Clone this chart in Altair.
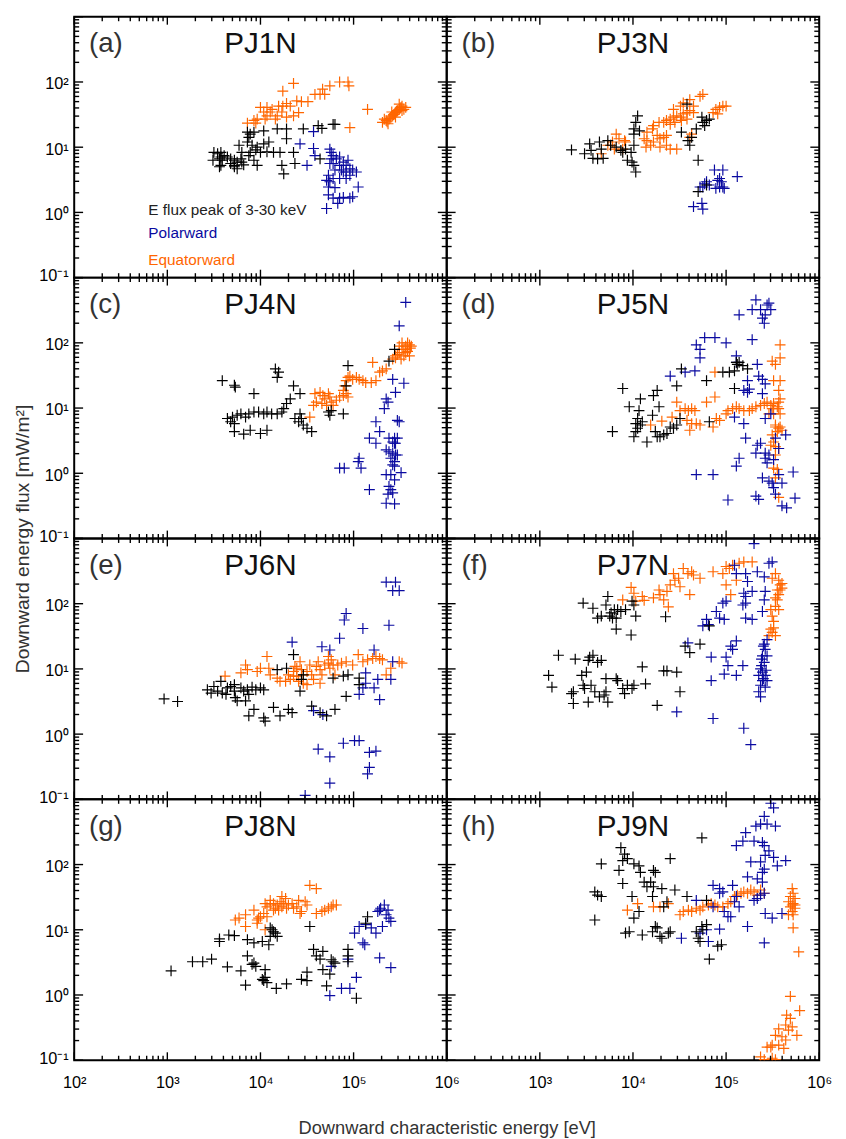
import altair as alt
import pandas as pd

# Values, stored as (log10 energy [eV], log10 flux [mW/m^2])
A_BLACK = [(3.50,0.92),(3.54,0.90),(3.575,0.92),(3.61,0.87),(3.56,0.82),(3.59,0.80),(3.645,0.85),(3.68,0.82),(3.72,0.80),(3.75,0.77),(3.79,0.82),(3.575,0.72),(3.72,0.70),(3.75,0.67),(3.82,0.73),(3.80,0.77),(3.875,0.87),(3.89,0.92),(3.95,0.96),(4.0,0.92),(4.07,0.93),(4.14,0.92),(4.21,0.92),(4.035,1.05),(4.09,1.08),(3.965,1.0),(3.77,1.03),(3.86,1.08),(3.89,1.20),(3.86,1.23),(3.93,1.23),(3.875,1.15),(4.035,1.25),(4.18,1.28),(4.28,1.28),(4.28,1.13),(4.355,0.92),(4.46,1.28),(4.62,1.33),(4.66,1.29),(4.78,1.35),(4.80,1.35),(4.64,0.82),(4.23,0.72),(4.25,0.59),(4.37,0.75),(3.965,0.72),(3.93,0.80),(3.49,0.80),(3.56,0.70),(3.68,0.75),(3.72,0.72),(3.91,1.03),(3.80,0.92),(3.575,0.85)]
A_BLUE = [(4.425,1.05),(4.57,0.98),(4.585,0.87),(4.50,0.72),(4.57,1.24),(4.745,0.97),(4.76,0.92),(4.78,0.87),(4.815,0.82),(4.85,0.85),(4.745,0.75),(4.78,0.75),(4.85,0.72),(4.89,0.77),(4.92,0.72),(4.96,0.67),(4.99,0.65),(5.03,0.62),(4.92,0.62),(4.87,0.65),(4.80,0.65),(4.73,0.57),(4.71,0.49),(4.745,0.47),(4.78,0.52),(4.85,0.52),(4.92,0.52),(4.96,0.57),(4.73,0.39),(4.80,0.38),(5.05,0.39),(4.73,0.27),(4.78,0.22),(4.85,0.22),(4.89,0.23),(4.96,0.22),(4.99,0.24),(4.83,0.14),(4.71,0.06),(4.89,0.62),(4.76,0.82),(4.94,0.80)]
A_ORANGE = [(4.24,1.86),(4.355,1.98),(4.667,1.89),(4.745,1.94),(4.85,2.0),(4.94,2.0),(4.95,1.94),(4.64,1.81),(4.69,1.81),(4.585,1.81),(4.39,1.71),(4.44,1.70),(4.51,1.70),(4.28,1.67),(4.24,1.63),(4.195,1.63),(4.07,1.61),(4.0,1.61),(4.125,1.58),(4.035,1.54),(4.105,1.54),(4.23,1.54),(4.32,1.63),(4.355,1.48),(4.41,1.53),(4.18,1.48),(4.07,1.48),(4.05,1.43),(4.16,1.43),(4.28,1.46),(3.965,1.43),(3.86,1.37),(3.95,1.37),(3.93,1.41),(4.96,1.30),(5.15,1.58),(5.31,1.38),(5.35,1.41),(5.38,1.43),(5.40,1.46),(5.42,1.48),(5.44,1.51),(5.45,1.53),(5.47,1.56),(5.49,1.58),(5.51,1.61),(5.52,1.63),(5.54,1.58),(5.49,1.66),(5.45,1.46),(5.37,1.36),(5.33,1.43),(5.41,1.54),(5.52,1.56),(5.56,1.61),(5.36,1.39),(5.43,1.50),(5.50,1.60),(5.46,1.55),(5.39,1.44)]

B_BLACK = [(3.34,0.96),(3.535,1.05),(3.55,0.95),(3.48,0.90),(3.57,0.83),(3.62,0.82),(3.68,0.83),(3.66,0.97),(3.64,1.08),(3.73,1.10),(3.76,1.03),(3.82,1.0),(3.87,0.95),(3.92,0.97),(3.89,0.92),(3.94,0.80),(3.99,0.77),(4.01,0.72),(4.03,0.62),(3.98,0.92),(4.01,1.03),(4.01,1.20),(4.03,1.38),(4.05,1.48),(4.01,1.28),(4.07,1.25),(4.52,1.23),(4.59,1.10),(4.61,1.03),(4.63,1.15),(4.68,1.28),(4.75,1.38),(4.77,1.33),(4.79,1.41),(4.82,1.43),(4.74,1.46),(4.70,0.80),(4.70,0.32),(4.79,0.42),(4.58,1.66)]
B_BLUE = [(4.79,0.47),(4.75,0.39),(4.82,0.42),(4.875,0.65),(4.965,0.65),(4.93,0.52),(4.95,0.47),(4.91,0.49),(4.89,0.37),(4.98,0.37),(4.965,0.39),(4.93,0.39),(5.12,0.55),(4.65,0.09),(4.74,0.14),(4.75,0.05),(4.72,0.39),(4.77,0.44)]
B_ORANGE = [(3.73,1.03),(3.78,1.08),(3.82,1.20),(3.85,1.13),(3.91,1.10),(3.92,1.08),(3.89,0.97),(3.80,0.97),(4.12,1.13),(4.14,1.0),(4.15,1.23),(4.21,1.28),(4.22,1.33),(4.26,1.18),(4.29,1.13),(4.33,1.15),(4.36,1.18),(4.28,1.38),(4.33,1.38),(4.36,1.41),(4.40,1.43),(4.435,1.46),(4.47,1.48),(4.51,1.46),(4.54,1.51),(4.58,1.53),(4.61,1.56),(4.65,1.53),(4.40,1.35),(4.45,1.38),(4.52,1.41),(4.58,1.43),(4.36,1.03),(4.40,0.97),(4.47,0.97),(4.29,1.0),(4.19,1.03),(4.54,1.68),(4.61,1.73),(4.72,1.78),(4.75,1.81),(4.65,1.63),(4.86,1.53),(4.89,1.58),(4.93,1.61),(4.965,1.63),(5.0,1.63),(4.91,1.51),(4.435,1.58),(4.51,1.63),(4.61,1.15),(4.63,1.20),(3.66,0.90),(4.15,1.10),(4.22,1.08)]

C_BLACK = [(3.59,1.42),(3.72,1.35),(3.73,1.32),(3.645,0.84),(3.68,0.79),(3.72,0.76),(3.70,0.86),(3.75,0.89),(3.79,0.91),(3.84,0.86),(3.875,0.91),(3.93,0.94),(3.98,0.94),(4.035,0.91),(4.07,0.94),(4.12,0.91),(4.18,0.91),(4.23,0.94),(4.25,0.99),(4.28,1.07),(4.32,1.14),(4.355,1.34),(4.425,1.22),(4.37,0.84),(4.41,0.79),(4.46,0.74),(4.50,0.69),(4.55,0.64),(3.72,0.64),(3.82,0.60),(3.89,0.66),(4.0,0.61),(4.07,0.66),(3.93,1.22),(4.16,1.60),(4.195,1.55),(4.18,1.47),(4.425,0.91),(4.73,0.94),(4.745,0.89),(4.76,0.96),(4.89,0.91),(4.94,1.65),(4.92,1.34),(5.38,1.72),(5.44,1.90),(4.44,0.84)]
C_BLUE = [(5.56,2.62),(5.49,2.26),(5.54,1.38),(5.42,1.44),(5.35,1.14),(5.37,1.09),(5.45,1.24),(5.47,0.81),(5.49,0.79),(5.33,0.99),(5.24,0.79),(5.28,0.64),(5.17,0.54),(5.24,0.46),(5.44,0.54),(5.42,0.48),(5.45,0.46),(5.35,0.36),(5.38,0.33),(5.42,0.31),(5.45,0.28),(5.40,0.23),(5.44,0.18),(5.47,0.28),(5.42,0.13),(5.44,0.11),(5.51,0.01),(5.44,-0.10),(5.35,-0.02),(5.38,-0.20),(5.40,-0.25),(5.42,-0.30),(5.37,-0.32),(5.35,-0.46),(5.44,-0.47),(5.17,-0.25),(5.06,0.23),(5.05,0.18),(5.08,0.08),(4.85,0.08),(4.90,0.08),(5.40,-0.02),(5.44,0.46),(5.47,0.54),(5.38,0.54)]
C_ORANGE = [(4.53,0.86),(4.57,1.04),(4.585,1.22),(4.64,1.24),(4.67,1.19),(4.73,1.22),(4.745,1.17),(4.60,1.09),(4.66,1.07),(4.71,1.04),(4.69,1.14),(4.76,1.09),(4.78,1.04),(4.815,1.12),(4.85,1.17),(4.89,1.27),(4.905,1.34),(4.92,1.42),(4.94,1.47),(4.96,1.49),(4.99,1.44),(5.03,1.47),(5.06,1.44),(5.10,1.42),(5.13,1.39),(5.19,1.39),(5.205,1.70),(5.24,1.42),(5.28,1.55),(5.31,1.57),(5.35,1.60),(5.42,1.75),(5.45,1.77),(5.49,1.85),(5.52,1.90),(5.56,1.95),(5.60,1.97),(5.54,1.80),(5.58,1.87),(5.51,1.75),(5.47,1.82),(5.61,1.92),(5.56,1.85),(5.52,2.0),(5.60,1.80),(4.92,1.22),(4.94,1.17),(4.89,1.19),(5.49,1.95),(5.54,1.90),(5.62,1.95),(5.58,2.0),(5.45,1.80)]

D_BLACK = [(3.78,0.64),(3.89,1.30),(3.96,1.02),(4.03,0.76),(4.05,0.69),(4.065,0.96),(4.08,1.14),(4.10,0.79),(4.15,0.48),(4.21,0.89),(4.22,1.19),(4.26,1.27),(4.28,1.02),(4.24,0.64),(4.26,0.56),(4.29,0.56),(4.33,0.59),(4.365,0.61),(4.40,0.71),(4.435,0.69),(4.47,0.74),(4.505,0.84),(4.52,1.60),(4.47,1.34),(4.79,1.42),(4.82,0.79),(4.965,1.55),(5.035,1.55),(5.09,1.57),(5.11,1.70),(5.12,1.67),(5.14,1.70),(5.18,1.65),(5.23,1.60),(5.09,1.30),(4.03,0.64),(4.01,0.56),(4.05,0.84),(4.08,0.74)]
D_BLUE = [(5.32,2.66),(5.44,2.58),(5.48,2.51),(5.46,2.61),(5.37,2.51),(5.42,2.43),(5.39,2.38),(5.41,2.30),(5.14,2.43),(5.28,2.51),(5.28,2.05),(4.77,2.08),(4.88,2.08),(5.0,2.0),(4.68,1.97),(4.72,1.90),(4.72,1.77),(5.11,1.80),(5.11,1.70),(4.40,1.49),(4.56,1.55),(4.665,1.57),(5.335,1.67),(5.35,1.49),(5.39,1.44),(5.23,1.42),(5.25,1.29),(5.23,1.24),(5.19,1.27),(5.39,1.22),(5.42,1.37),(5.09,0.86),(5.19,0.76),(5.21,0.54),(5.335,0.43),(5.37,0.46),(5.32,0.31),(5.42,0.31),(5.46,0.28),(5.42,0.23),(5.44,0.16),(5.51,0.21),(5.14,0.23),(5.11,0.11),(5.39,-0.07),(5.46,-0.12),(5.495,-0.15),(5.51,-0.22),(5.565,-0.02),(5.60,-0.15),(5.72,0.02),(5.02,-0.41),(5.32,-0.35),(5.35,-0.40),(5.53,-0.32),(5.60,-0.50),(5.65,-0.53),(5.74,-0.38),(4.68,-0.02),(4.86,-0.02),(5.565,0.38),(5.53,0.54),(5.64,0.59),(5.48,0.91),(5.42,0.84)]
D_ORANGE = [(4.19,0.74),(4.31,0.80),(4.42,0.86),(4.47,1.09),(4.505,0.96),(4.56,0.99),(4.595,0.96),(4.63,0.99),(4.665,0.96),(4.58,0.81),(4.63,0.76),(4.68,0.76),(4.72,0.74),(4.61,0.66),(4.79,1.09),(4.88,1.17),(4.895,0.84),(4.93,0.81),(4.86,0.71),(4.88,1.55),(5.0,0.91),(5.02,0.96),(5.07,0.99),(5.11,1.02),(5.14,0.99),(5.19,0.96),(5.25,0.96),(5.28,0.99),(5.32,1.02),(5.37,1.04),(5.41,1.07),(5.44,1.09),(5.48,1.04),(5.51,1.07),(5.55,1.02),(5.565,0.99),(5.58,1.14),(5.565,1.27),(5.51,1.42),(5.58,1.42),(5.53,1.67),(5.58,1.77),(5.58,1.97),(5.495,1.72),(5.565,0.69),(5.53,0.71),(5.60,0.66),(5.55,0.64),(5.495,0.59),(5.51,0.48),(5.53,0.41),(5.565,0.38),(5.48,0.43),(5.53,0.28),(5.55,0.06),(5.53,-0.07),(5.565,-0.37),(5.51,0.08),(5.46,0.91),(5.51,0.91),(5.58,0.91),(5.495,0.99),(5.565,1.09),(5.53,0.74),(5.58,0.71)]

E_BLACK = [(2.965,0.54),(3.11,0.50),(3.43,0.68),(3.47,0.63),(3.50,0.73),(3.54,0.66),(3.575,0.81),(3.59,0.63),(3.63,0.61),(3.645,0.71),(3.68,0.73),(3.72,0.66),(3.73,0.56),(3.75,0.51),(3.72,0.76),(3.79,0.71),(3.82,0.66),(3.86,0.68),(3.875,0.61),(3.91,0.72),(3.95,0.68),(4.0,0.71),(4.035,0.68),(3.84,0.51),(3.875,0.28),(3.93,0.38),(4.035,0.25),(4.05,0.20),(4.14,0.41),(4.21,0.28),(4.30,0.38),(4.34,0.33),(4.355,1.22),(4.18,0.99),(4.425,0.66),(4.44,0.84),(4.46,0.91),(4.55,0.43),(4.64,0.33),(4.71,0.28),(4.80,0.38),(4.92,0.58),(4.78,0.86),(4.89,0.89),(4.94,0.91),(5.06,0.76),(5.06,0.86),(4.28,1.01)]
E_BLUE = [(4.34,1.41),(4.48,-0.94),(4.62,-0.23),(4.66,1.34),(4.745,1.29),(4.745,-0.35),(4.745,-0.75),(4.85,1.47),(4.90,1.75),(4.92,1.85),(4.89,-0.14),(5.01,-0.10),(5.06,-0.10),(5.10,1.62),(5.13,0.94),(5.13,0.78),(5.06,0.61),(5.10,0.71),(5.17,-0.51),(5.15,-0.61),(5.17,-0.28),(5.24,-0.26),(5.22,0.71),(5.22,1.29),(5.28,0.53),(5.26,0.84),(5.35,2.33),(5.45,2.33),(5.42,2.20),(5.49,2.20),(5.38,1.67),(5.40,0.84),(5.42,1.11),(4.67,0.30),(4.57,0.36)]
E_ORANGE = [(3.62,0.89),(3.79,0.94),(3.84,1.06),(3.86,0.99),(3.965,0.96),(4.0,1.01),(4.07,1.19),(4.09,1.01),(4.105,0.91),(4.18,0.86),(4.21,0.81),(4.27,0.81),(4.32,0.84),(4.355,0.96),(4.37,1.04),(4.39,0.89),(4.41,0.81),(4.425,1.11),(4.44,0.99),(4.46,0.91),(4.50,0.96),(4.53,1.06),(4.55,0.91),(4.57,0.84),(4.60,1.04),(4.62,1.11),(4.64,0.99),(4.66,0.91),(4.69,1.06),(4.73,1.09),(4.745,1.01),(4.76,1.14),(4.78,1.06),(4.80,0.91),(4.83,1.06),(4.87,1.09),(4.92,1.11),(4.99,1.06),(5.05,1.22),(5.10,1.11),(5.15,1.14),(5.205,1.16),(5.24,1.19),(5.28,1.16),(5.31,1.14),(5.35,0.91),(5.40,1.01),(5.49,1.11),(5.52,1.09),(4.46,0.78),(4.50,0.76),(4.64,0.78),(4.73,1.19),(4.30,0.91),(4.39,1.01),(4.355,0.89)]

F_BLACK = [(3.094,0.90),(3.13,0.72),(3.20,1.21),(3.38,1.15),(3.36,0.65),(3.34,0.62),(3.36,0.47),(3.45,0.90),(3.465,0.75),(3.48,0.70),(3.50,0.95),(3.52,1.13),(3.535,1.18),(3.57,1.21),(3.62,1.10),(3.66,1.13),(3.52,0.49),(3.55,0.75),(3.59,0.65),(3.64,0.57),(3.69,0.60),(3.71,0.65),(3.73,0.49),(3.71,0.85),(3.82,0.85),(3.835,0.82),(3.89,0.70),(3.91,0.62),(3.94,0.75),(3.99,0.70),(4.01,0.75),(4.10,1.03),(4.135,0.77),(4.26,0.44),(4.33,0.97),(4.365,0.97),(4.47,0.95),(4.505,0.65),(4.56,1.35),(4.61,1.25),(4.72,1.38),(4.82,1.66),(3.465,2.01),(3.57,1.93),(3.62,1.78),(3.66,1.81),(3.73,2.11),(3.765,1.86),(3.78,1.78),(3.80,1.91),(3.82,1.61),(3.835,1.91),(3.87,1.88),(3.92,1.91),(3.98,1.52),(4.03,1.81),(4.35,1.80),(3.71,1.98),(3.75,1.81),(3.82,1.78),(4.01,1.98),(3.99,2.04)]
F_BLUE = [(5.30,2.92),(5.495,2.64),(5.46,2.62),(5.09,2.59),(5.11,2.46),(5.21,2.46),(5.23,2.34),(5.19,2.16),(5.21,2.11),(5.28,2.19),(5.335,2.49),(5.41,2.41),(5.42,2.19),(5.41,2.06),(5.39,1.88),(5.21,2.01),(5.18,1.98),(4.965,2.01),(5.0,2.04),(4.895,1.88),(4.93,1.78),(4.98,1.76),(4.79,1.76),(4.81,1.68),(4.75,1.66),(5.21,1.78),(5.28,1.76),(5.44,1.45),(5.41,1.38),(5.42,1.30),(5.39,1.20),(5.44,1.20),(5.41,1.10),(5.37,1.0),(5.39,0.95),(5.42,0.90),(5.35,0.90),(5.39,0.82),(5.44,0.82),(5.37,0.75),(5.35,0.65),(5.37,0.57),(5.42,0.72),(5.11,1.43),(5.05,1.35),(5.07,1.30),(5.0,1.18),(5.02,1.05),(4.98,0.92),(5.11,0.90),(5.18,1.05),(4.84,1.18),(4.84,0.82),(4.59,1.40),(4.47,0.34),(4.86,0.24),(5.19,0.09),(5.265,-0.16),(5.40,1.35),(5.38,1.05),(5.43,0.98),(5.40,0.85),(5.38,1.15)]
F_ORANGE = [(3.89,2.06),(3.98,2.25),(4.01,2.16),(4.03,2.04),(4.10,2.11),(4.12,2.05),(4.22,2.09),(4.28,2.21),(4.33,2.06),(4.365,2.19),(4.38,1.95),(4.40,2.29),(4.435,2.46),(4.45,2.36),(4.49,2.39),(4.505,2.26),(4.54,2.54),(4.59,2.46),(4.63,2.49),(4.65,2.44),(4.72,2.39),(4.61,2.14),(4.86,2.49),(4.965,2.46),(5.0,2.57),(5.035,2.54),(5.07,2.59),(5.14,2.62),(5.19,2.64),(5.28,2.64),(5.0,2.29),(5.05,2.14),(5.11,2.36),(5.495,2.39),(5.53,2.46),(5.565,2.36),(5.58,2.29),(5.60,2.31),(5.55,2.21),(5.565,2.14),(5.55,2.06),(5.53,1.96),(5.48,1.91),(5.495,1.81),(5.51,1.73),(5.51,1.63),(5.495,1.56),(5.46,1.51),(5.53,1.51),(5.48,1.61),(5.565,1.91),(5.53,2.09),(5.58,2.21),(5.60,2.24),(4.29,2.14)]

G_BLACK = [(3.04,0.37),(3.27,0.51),(3.38,0.51),(3.475,0.55),(3.56,0.86),(3.56,0.82),(3.66,0.92),(3.72,0.91),(3.645,0.43),(3.79,0.37),(3.84,0.15),(3.86,0.60),(3.86,0.85),(3.91,0.47),(3.93,0.49),(3.93,0.80),(3.95,0.44),(4.02,0.82),(4.02,0.24),(4.035,0.22),(4.05,0.27),(4.07,0.19),(4.05,0.39),(4.105,0.90),(4.09,0.77),(4.105,1.03),(4.125,1.0),(4.14,0.97),(4.16,0.95),(4.18,0.90),(4.17,0.10),(4.28,0.17),(4.44,0.24),(4.50,0.22),(4.50,0.35),(4.53,1.05),(4.57,0.70),(4.60,0.60),(4.64,0.55),(4.67,0.67),(4.67,0.39),(4.71,0.14),(4.745,0.32),(4.76,0.54),(4.78,0.51),(4.80,0.49),(4.94,0.70),(4.94,0.51),(5.03,-0.05),(5.13,1.10),(5.15,1.20),(4.94,0.60)]
G_BLUE = [(4.745,-0.01),(4.76,0.44),(4.87,0.10),(4.96,0.10),(4.94,0.55),(5.03,0.27),(5.01,0.95),(5.06,1.05),(5.10,0.80),(5.12,0.77),(5.13,1.08),(5.19,1.03),(5.24,0.95),(5.26,1.28),(5.28,1.30),(5.29,1.33),(5.33,1.38),(5.37,1.30),(5.35,1.23),(5.31,1.05),(5.28,0.57),(5.40,0.42),(5.38,1.18),(5.40,1.13)]
G_ORANGE = [(3.77,1.18),(3.73,1.15),(3.84,1.05),(3.84,1.23),(3.93,1.30),(3.965,1.15),(3.98,1.18),(4.0,1.20),(4.05,1.40),(4.07,1.35),(4.105,1.38),(4.14,1.30),(4.16,1.33),(4.18,1.38),(4.105,1.45),(4.035,1.25),(4.07,1.20),(4.195,1.30),(4.23,1.35),(4.25,1.40),(4.30,1.38),(4.355,1.33),(4.39,1.35),(4.41,1.45),(4.425,1.25),(4.44,1.28),(4.48,1.43),(4.50,1.38),(4.53,1.68),(4.60,1.63),(4.60,1.25),(4.66,1.28),(4.69,1.30),(4.73,1.33),(4.76,1.35),(4.78,1.38),(4.815,1.38),(4.27,1.48),(4.23,1.51),(4.14,1.40),(4.21,1.43),(4.28,1.33),(4.34,1.40),(4.05,1.0),(3.965,1.10)]

H_BLACK = [(3.59,1.15),(3.59,1.58),(3.62,1.53),(3.66,2.01),(3.66,1.51),(3.85,1.91),(3.87,2.26),(3.89,2.06),(3.91,2.16),(3.89,1.71),(3.92,0.95),(3.96,0.97),(3.99,1.51),(4.01,1.18),(4.065,1.28),(4.065,1.98),(4.10,0.92),(4.08,1.88),(4.12,1.73),(4.15,1.66),(4.19,1.73),(4.21,1.51),(4.22,1.66),(4.24,1.88),(4.22,1.91),(4.21,0.97),(4.24,1.05),(4.26,1.03),(4.29,0.90),(4.31,0.87),(4.31,1.63),(4.33,1.35),(4.365,1.43),(4.38,0.95),(4.40,0.97),(4.40,2.09),(4.45,1.61),(4.58,1.51),(4.68,0.97),(4.70,0.87),(4.72,0.82),(4.74,1.05),(4.75,1.0),(4.79,1.08),(4.79,1.45),(4.82,0.55),(4.91,0.75),(4.95,0.77),(4.74,2.41),(3.94,2.09),(4.01,2.01)]
H_BLUE = [(5.48,2.94),(5.51,2.87),(5.41,2.74),(5.44,2.62),(5.53,2.59),(5.32,2.59),(5.37,2.62),(5.21,2.49),(5.18,2.36),(5.11,2.29),(5.30,2.36),(5.39,2.34),(5.41,2.29),(5.46,2.21),(5.42,2.14),(5.51,2.11),(5.64,2.06),(5.37,2.04),(5.265,2.04),(5.55,1.98),(5.41,1.93),(5.39,1.88),(5.23,1.81),(5.335,1.78),(5.39,1.73),(4.86,1.68),(4.93,1.63),(4.93,1.56),(4.965,1.58),(5.07,1.68),(5.11,1.51),(5.09,1.43),(5.14,1.35),(4.98,1.28),(5.02,1.20),(5.05,1.20),(5.37,1.53),(5.335,1.48),(5.30,1.45),(5.41,1.56),(5.42,1.25),(5.495,1.18),(5.60,1.25),(5.23,1.05),(5.41,0.80),(4.68,1.45),(4.52,0.87),(4.81,0.82),(4.93,1.01),(4.86,1.35),(4.72,0.95),(4.79,1.0)]
H_ORANGE = [(3.94,1.30),(4.05,1.40),(4.22,1.35),(4.29,1.35),(4.38,1.40),(4.505,1.23),(4.54,1.28),(4.595,1.30),(4.63,1.28),(4.68,1.33),(4.72,1.30),(4.75,1.35),(4.81,1.38),(4.84,1.40),(4.88,1.38),(4.91,1.35),(4.965,1.35),(5.02,1.40),(5.05,1.43),(5.09,1.51),(5.12,1.53),(5.16,1.56),(5.19,1.58),(5.23,1.56),(5.265,1.61),(5.30,1.58),(5.335,1.53),(5.37,1.61),(5.41,1.56),(5.71,1.63),(5.72,1.56),(5.69,1.51),(5.74,1.48),(5.67,1.43),(5.72,1.40),(5.69,1.35),(5.74,1.33),(5.71,1.28),(5.67,1.23),(5.72,1.23),(5.71,1.38),(5.74,1.38),(5.72,1.03),(5.78,0.66),(5.69,-0.02),(5.79,-0.24),(5.65,-0.31),(5.69,-0.36),(5.64,-0.46),(5.71,-0.49),(5.565,-0.52),(5.67,-0.54),(5.76,-0.62),(5.53,-0.62),(5.60,-0.64),(5.64,-0.69),(5.495,-0.77),(5.565,-0.77),(5.44,-0.80),(5.48,-0.80),(5.62,-0.82),(5.37,-0.95),(5.495,-0.97),(5.53,-0.99),(5.41,-0.99)]

PANEL_LETTERS = ["(a)", "(b)", "(c)", "(d)", "(e)", "(f)", "(g)", "(h)"]
PANEL_NAMES = ["PJ1N", "PJ3N", "PJ4N", "PJ5N", "PJ6N", "PJ7N", "PJ8N", "PJ9N"]
PANEL_DATA = [(A_BLACK, A_BLUE, A_ORANGE), (B_BLACK, B_BLUE, B_ORANGE),
              (C_BLACK, C_BLUE, C_ORANGE), (D_BLACK, D_BLUE, D_ORANGE),
              (E_BLACK, E_BLUE, E_ORANGE), (F_BLACK, F_BLUE, F_ORANGE),
              (G_BLACK, G_BLUE, G_ORANGE), (H_BLACK, H_BLUE, H_ORANGE)]
LEGEND_TEXT = ["E flux peak of 3-30 keV", "Polarward", "Equatorward"]

X_MAJOR = [1e2, 1e3, 1e4, 1e5, 1e6]
X_MINOR = [m * 10.0 ** k for k in range(2, 6) for m in range(2, 10)]
Y_MAJOR = [0.1, 1.0, 10.0, 100.0, 1000.0]
Y_MINOR = [m * 10.0 ** k for k in range(-1, 3) for m in range(2, 10)]
Y_LABELS = [0.1, 1.0, 10.0, 100.0]

BLACK, BLUE, ORANGE = "#000000", "#0A0AA0", "#FF6600"
FONT = "Liberation Sans"
W, H = 377, 264
CROSS = "M-1,0H1M0,-1V1"

XS = alt.Scale(type="log", domain=[1e2, 1e6], nice=False)
YS = alt.Scale(type="log", domain=[0.1, 1e3], nice=False)

SUP = "['⁰','¹','²','³','⁴','⁵','⁶']"


def df_of(pairs):
    return pd.DataFrame({"E": [10 ** p[0] for p in pairs], "F": [10 ** p[1] for p in pairs]})


def panel(i):
    col, row = i % 2, i // 2
    if col == 0:
        yax = alt.Axis(values=Y_LABELS, ticks=False, domain=False, grid=False,
                       labelExpr="datum.value < 0.5 ? '10⁻¹' : '10' + " + SUP + "[round(log(datum.value)/LN10)]",
                       labelFlush=True, labelFlushOffset=4, labelOverlap=False, labelPadding=6,
                       labelFontSize=16.5, labelColor="#000", labelOffset=2,
                       title="Downward energy flux [mW/m²]" if row == 1 else None,
                       titleY=H, titlePadding=6, titleFontSize=19.5)
    else:
        yax = None
    if row == 3:
        xvals = X_MAJOR if col == 0 else X_MAJOR[1:]
        xax = alt.Axis(values=xvals, ticks=False, domain=False, grid=False,
                       labelExpr="'10' + " + SUP + "[round(log(datum.value)/LN10)]",
                       labelFlush=False, labelOverlap=False, labelPadding=15,
                       labelFontSize=16.5, labelColor="#000",
                       title="Downward characteristic energy [eV]" if col == 0 else None,
                       titleX=W, titlePadding=28, titleFontSize=18.5)
    else:
        xax = None

    def xenc(f):
        return alt.X(f, type="quantitative", scale=XS, axis=xax)

    def yenc(f):
        return alt.Y(f, type="quantitative", scale=YS, axis=yax)

    layers = []
    blk, blu, org = PANEL_DATA[i]
    for pairs, colr in ((org, ORANGE), (blu, BLUE), (blk, BLACK)):
        layers.append(alt.Chart(df_of(pairs)).mark_point(
            shape=CROSS, filled=False, size=120, strokeWidth=1.2, color=colr,
            opacity=1, clip=True).encode(x=xenc("E"), y=yenc("F")))

    # inward ticks on all four sides
    for vals, ln in ((X_MAJOR, 8), (X_MINOR, 4.5)):
        d = pd.DataFrame({"v": vals})
        layers.append(alt.Chart(d).mark_rule(color="#000", strokeWidth=1.4).encode(
            x=xenc("v"), y=alt.value(H), y2=alt.value(H - ln)))
        layers.append(alt.Chart(d).mark_rule(color="#000", strokeWidth=1.4).encode(
            x=xenc("v"), y=alt.value(0), y2=alt.value(ln)))
    for vals, ln in ((Y_MAJOR, 9), (Y_MINOR, 5)):
        d = pd.DataFrame({"v": vals})
        layers.append(alt.Chart(d).mark_rule(color="#000", strokeWidth=1.4).encode(
            y=yenc("v"), x=alt.value(0), x2=alt.value(ln)))
        layers.append(alt.Chart(d).mark_rule(color="#000", strokeWidth=1.4).encode(
            y=yenc("v"), x=alt.value(W), x2=alt.value(W - ln)))

    # panel letter and title
    layers.append(alt.Chart(pd.DataFrame({"t": [PANEL_LETTERS[i]]})).mark_text(
        align="left", baseline="alphabetic", fontSize=28, font=FONT, color="#333333").encode(
        x=alt.value(15), y=alt.value(36), text="t:N"))
    layers.append(alt.Chart(pd.DataFrame({"t": [PANEL_NAMES[i]]})).mark_text(
        align="center", baseline="alphabetic", fontSize=30, font=FONT, color="#111111").encode(
        x=alt.value(W / 2), y=alt.value(37), text="t:N"))

    if i == 0:
        for txt, colr, yy in zip(LEGEND_TEXT, ["#222222", BLUE, ORANGE], [196, 219, 246]):
            layers.append(alt.Chart(pd.DataFrame({"t": [txt]})).mark_text(
                align="left", baseline="middle", fontSize=15.5, font=FONT, color=colr).encode(
                x=alt.value(75), y=alt.value(yy), text="t:N"))

    return alt.layer(*layers).properties(width=W, height=H)


chart = alt.concat(*[panel(i) for i in range(8)], columns=2, spacing=0, bounds="flush").properties(
    padding={"left": 4, "top": 0, "right": 5, "bottom": 5}
).configure_view(stroke="#000000", strokeWidth=2).configure_axis(
    labelFont=FONT, titleFont=FONT, titleFontWeight="normal", titleColor="#333333"
)

chart.save("out.html", embed_options={"renderer": "svg", "actions": False})
